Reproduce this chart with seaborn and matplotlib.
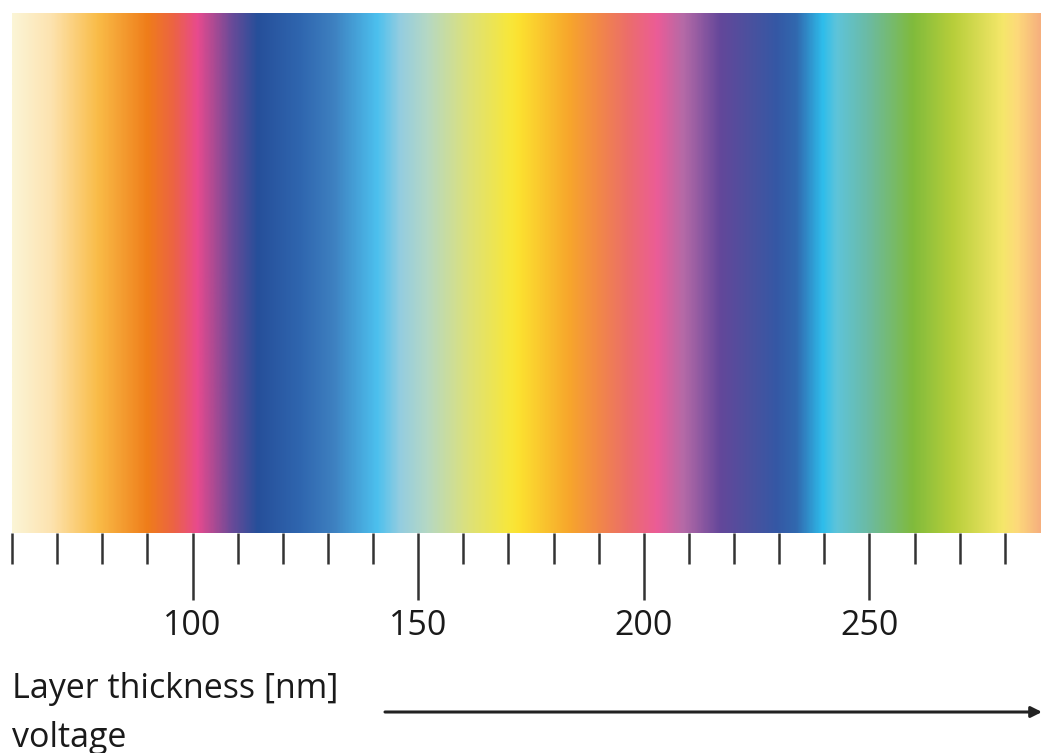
import numpy as np
import matplotlib.pyplot as plt
from matplotlib.colors import LinearSegmentedColormap
import seaborn as sns

# colour stops of the interference band
thickness = [60, 68.4, 78.8, 89.9, 95.7, 101, 108.3, 114.3, 123.9, 131.2,
             140.9, 146, 152, 160.9, 170.4, 172.6, 183.7, 190.4, 196.4, 203,
             208.8, 217, 224.3, 229.6, 234, 239.8, 242.9, 250.2, 259.8, 268.7,
             279.7, 282.8, 288]
colours = ["#FBF5D6", "#FDE3B0", "#F9BC48", "#EF7D1A", "#EC6344", "#E84A8E",
           "#6E4A98", "#264F9A", "#2F66AF", "#3E80C0", "#4CC0EE", "#94CDE0",
           "#B5D8C4", "#DCE17B", "#F8E73A", "#FCE030", "#F7A52C", "#F1864A",
           "#EC6E6A", "#EB5C97", "#B56AA7", "#64479A", "#48529F", "#3558A5",
           "#3169AF", "#2EBDEB", "#5EC4DA", "#6CBAA0", "#80BB3C", "#B7CE3A",
           "#F5E76A", "#FDDA7A", "#F6B07E"]
major_ticks = [100, 150, 200, 250]
minor_ticks = [60, 70, 80, 90, 110, 120, 130, 140, 160, 170, 180, 190,
               210, 220, 230, 240, 260, 270, 280]

sns.set_theme(style="white")
plt.rcParams['font.family'] = ['Open Sans', 'DejaVu Sans']

t0, t1 = thickness[0], thickness[-1]
pos = [(t - t0) / (t1 - t0) for t in thickness]
cmap = LinearSegmentedColormap.from_list("band", list(zip(pos, colours)), N=1024)

W, H = 1041, 753
fig = plt.figure(figsize=(W / 100, H / 100), dpi=100)
ax = fig.add_axes([12 / W, 1 - 533 / H, (W - 12) / W, (533 - 13) / H])

grid = np.linspace(t0, t1, 1200)[np.newaxis, :]
ax.imshow(grid, cmap=cmap, aspect="auto", extent=(t0, t1, 0, 1),
          vmin=t0, vmax=t1, interpolation="bilinear")
ax.set_xlim(t0, t1)
ax.set_ylim(0, 1)
for s in ax.spines.values():
    s.set_visible(False)
ax.set_yticks([])
ax.set_xticks(major_ticks)
ax.set_xticks(minor_ticks, minor=True)
ax.tick_params(axis="x", which="major", direction="out", length=48, width=1.8,
               color="#333333", pad=7, labelsize=24.5, labelcolor="#1a1a1a",
               bottom=True)
ax.tick_params(axis="x", which="minor", direction="out", length=22.5, width=1.8,
               color="#333333", bottom=True)

fig.text(12 / W, 1 - 689 / H, "Layer thickness [nm]", fontsize=24.5,
         color="#1a1a1a", ha="left", va="center")
fig.text(12 / W, 1 - 738 / H, "voltage", fontsize=24.5,
         color="#1a1a1a", ha="left", va="center")

plt.annotate("", xy=(W + 1, H - 712), xytext=(385, H - 712),
             xycoords="figure pixels", textcoords="figure pixels",
             arrowprops=dict(arrowstyle="-|>", lw=2.2, color="#222222",
                             mutation_scale=16, shrinkA=0, shrinkB=0))

fig.savefig("out.png", dpi=100)
